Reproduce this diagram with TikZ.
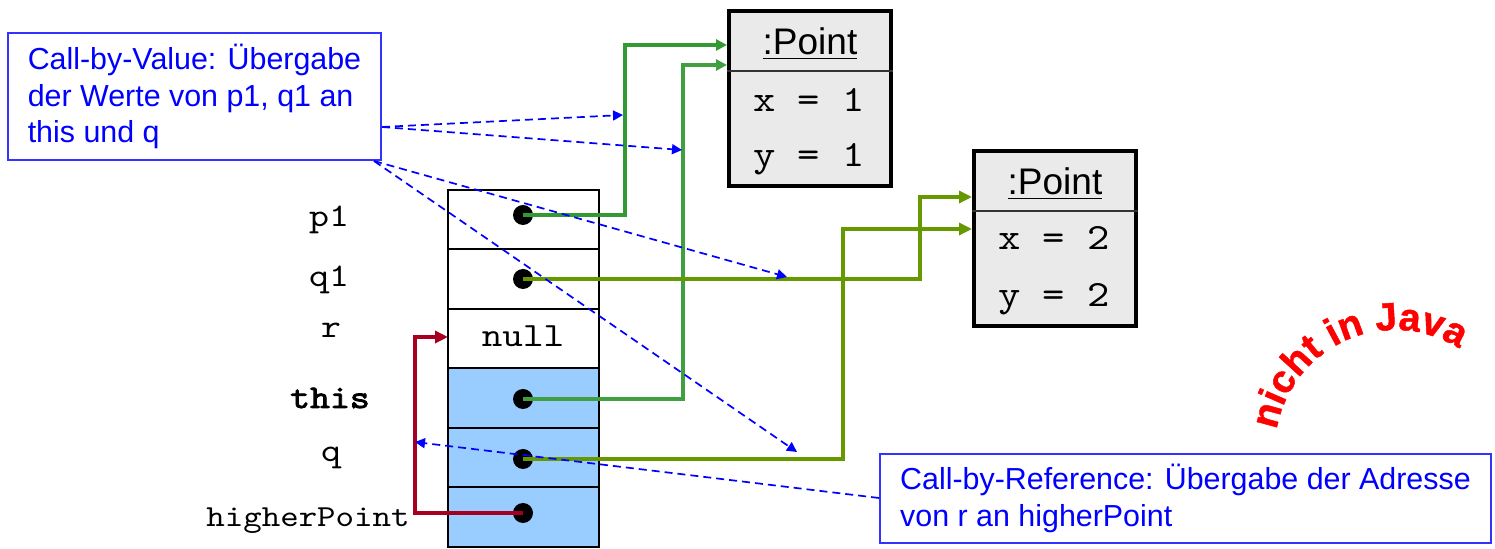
\documentclass[tikz,border=0pt]{standalone}
\usepackage{fontspec}
\setmainfont{Liberation Sans}
\newfontfamily\mono{lmmono10-regular}[Extension=.otf,FakeStretch=1.15,AutoFakeBold=2.5]
\newfontfamily\heavy{Liberation Sans}[BoldFeatures={FakeBold=1.2}]
\usetikzlibrary{arrows.meta,decorations.text}
\definecolor{gA}{HTML}{339933}
\definecolor{gB}{HTML}{40A040}
\definecolor{oliveG}{HTML}{669900}
\definecolor{myred}{HTML}{A50021}
\definecolor{cellblue}{HTML}{99CCFF}
\definecolor{ptgray}{HTML}{EAEAEA}
\definecolor{noteborder}{HTML}{3333FF}
\begin{document}
\begin{tikzpicture}[x=0.5pt,y=0.5pt,
  cell/.style={draw, line width=1pt, minimum width=75.5pt, minimum height=29.75pt, inner sep=0pt, outer sep=0pt},
  dot/.style={circle, fill=black, minimum size=10pt, inner sep=0pt},
  lbl/.style={font=\mono\fontsize{16.5}{18}\selectfont, anchor=base, inner sep=0pt},
  pbox/.style={draw, line width=2pt, fill=ptgray, minimum width=81pt, minimum height=87.5pt, inner sep=0pt},
  hdr/.style={font=\fontsize{18.5}{20}\selectfont, anchor=base, inner sep=0pt},
  val/.style={font=\mono\fontsize{18.5}{20}\selectfont, anchor=base, inner sep=0pt},
  note/.style={draw=noteborder, line width=1pt, fill=white, text=blue, align=left, anchor=north west, font=\fontsize{15.2}{18.25}\selectfont},
  gline/.style={line width=1.6pt, -{Triangle[length=5.5pt,width=5.5pt]}},
  oline/.style={line width=2pt, oliveG, -{Triangle[length=6.5pt,width=6pt]}},
  rline/.style={line width=2pt, myred, -{Triangle[length=6.5pt,width=6pt]}},
  dline/.style={line width=0.85pt, blue, dash pattern=on 4pt off 2.5pt, -{Triangle[length=5pt,width=5pt]}}
]
\useasboundingbox (0,0) rectangle (1495,-549);

% stack cells
\node[cell] (c1) at (523.5,-219.75) {};
\node[cell] (c2) at (523.5,-279.25) {};
\node[cell] (c3) at (523.5,-338.75) {};
\node[cell, fill=cellblue] (c4) at (523.5,-398.25) {};
\node[cell, fill=cellblue] (c5) at (523.5,-457.75) {};
\node[cell, fill=cellblue] (c6) at (523.5,-517.25) {};
\node[lbl, font=\mono\fontsize{17}{18}\selectfont] (nl) at (523,-347) {null};

% dots
\node[dot] (d1) at (523,-215) {};
\node[dot] (d2) at (523,-279) {};
\node[dot] (d4) at (523,-399) {};
\node[dot] (d5) at (523,-459) {};
\node[dot] (d6) at (523,-513) {};

% labels
\node[lbl] (lp1) at (329,-227) {p1};
\node[lbl] (lq1) at (329,-287) {q1};
\node[lbl] (lr) at (331,-338) {r};
\node[lbl, font=\mono\bfseries\fontsize{16.5}{18}\selectfont] (lthis) at (330,-408) {this};
\node[lbl] (lq) at (331,-462) {q};
\node[lbl, font=\mono\fontsize{15.3}{17}\selectfont] (lhp) at (308,-527) {higherPoint};

% Point objects
\node[pbox] (P1) at (810,-98.5) {};
\draw[line width=0.75pt, black!80] (P1.west |- 0,-71) -- (P1.east |- 0,-71);
\node[hdr] (h1) at (810,-55) {\underline{:Point}};
\node[val] (x1) at (809,-112) {x = 1};
\node[val] (y1) at (809,-167) {y = 1};

\node[pbox] (P2) at (1055,-238.5) {};
\draw[line width=0.75pt, black!80] (P2.west |- 0,-211) -- (P2.east |- 0,-211);
\node[hdr] (h2) at (1055,-195) {\underline{:Point}};
\node[val] (x2) at (1054,-250) {x = 2};
\node[val] (y2) at (1054,-307) {y = 2};

% reference connectors
\draw[gline, gA] (d1.center) -| (625,-45) -- (P1.west |- 0,-45);
\draw[gline, gB] (d4.center) -| (683,-65) -- (P1.west |- 0,-65);
\draw[oline] (d2.center) -| (920,-197) -- (P2.west |- 0,-197);
\draw[oline] (d5.center) -| (843,-229) -- (P2.west |- 0,-229);
\draw[rline] (d6.center) -| (415,-337) -- (c3.west |- 0,-337);

% notes
\node[note, minimum width=186.5pt, minimum height=63.5pt] (L) at (7,-32)
  {Call-by-Value: Übergabe\\der Werte von p1, q1 an\\this und q};
\node[note, minimum width=305.5pt, minimum height=44.5pt] (R) at (879,-453)
  {Call-by-Reference: Übergabe der Adresse\\von r an higherPoint};

% dashed annotation arrows
\coordinate (t1) at (623,-115);
\coordinate (t2) at (682,-150);
\coordinate (t3) at (787,-277);
\coordinate (t4) at (797,-452);
\coordinate (t5) at (415,-442);
\coordinate (s1) at (L.east |- 0,-127);
\coordinate (s2) at ([xshift=-4pt]L.south east);
\coordinate (s3) at (R.west |- 0,-498);
\draw[dline] (s1) -- (t1);
\draw[dline] (s1) -- (t2);
\draw[dline] (s2) -- (t3);
\draw[dline] (s2) -- (t4);
\draw[dline] (s3) -- (t5);

% curved label
\path[decorate, decoration={text along path, text color=red, text align=center,
  text={|\heavy\bfseries\fontsize{19.5}{22}\selectfont|nicht in Java}}]
  (1395,-450) ++(172:120) arc[start angle=172, end angle=56, radius=120];
\end{tikzpicture}
\end{document}
